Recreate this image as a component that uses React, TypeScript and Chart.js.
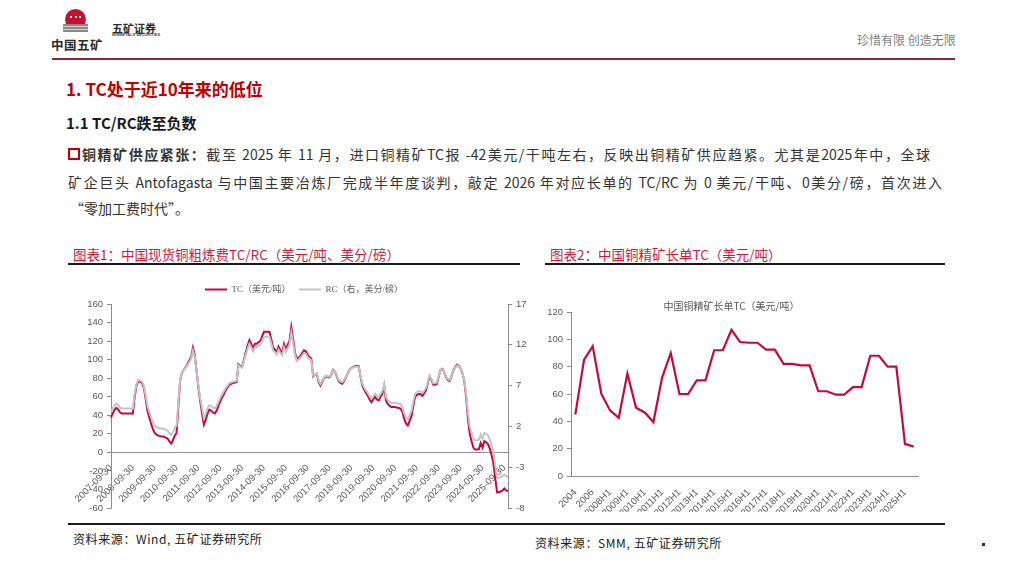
import React, { useEffect, useRef } from 'react';
import { Chart, registerables } from 'chart.js';

Chart.register(...registerables);

// ---------- DATA ----------
// Chart 1: monthly spot TC (USD/t) and RC (US cents/lb), 2007-09 .. 2025-11
const spotStartYear = 2007;
const spotStartMonth = 9;
const tcSpot = [
  37.5, 42, 46, 48,
  46, 43, 42, 42, 42, 42, 42, 42, 42, 60, 72, 77,
  76, 75, 70, 58, 45, 38, 31, 25, 21, 19, 18, 17.5,
  17, 17, 16, 15, 12, 9.5, 13, 18, 21, 50, 78, 86,
  89, 92, 95, 99, 103, 113, 105, 88, 70, 55, 42, 30,
  35, 42, 46, 45, 43, 42, 45, 50, 55, 59, 63, 67,
  70, 73, 74, 75, 75, 76, 95, 93, 92, 100, 108, 115,
  121, 117, 112, 117, 117, 119, 120, 125, 130, 130, 130, 130,
  122, 113, 111, 108, 114, 110, 107, 117, 111, 116, 120, 135,
  122, 108, 100, 102, 104, 107, 110, 109, 105, 103, 101, 82,
  84, 85, 76, 72, 76, 80, 82, 81, 81, 84, 89, 87,
  82, 77, 75, 74, 77, 81, 85, 89, 91, 92, 93, 93.5,
  93, 82, 72, 68, 64, 61, 57, 54, 57, 60, 57, 56,
  60, 63, 72, 56, 52, 50, 49, 49, 49, 48, 48, 47,
  44, 36, 31, 29, 34, 39, 50, 60, 62, 63, 63, 61,
  64, 67, 75, 82, 78, 73, 73, 74, 82, 89, 90, 86,
  81, 78, 77, 82, 89, 92, 94.5, 93, 90, 85, 77, 60,
  36, 20, 12, 5, 3, 3, 3.5, 10, 5, 12, 11, 9,
  4, -3, -12, -28, -43, -43, -42, -41, -39, -41, -42,
];
const rcSpot = [
  3.75, 4.2, 4.6, 4.8,
  4.6, 4.3, 4.2, 4.2, 4.2, 4.2, 4.2, 4.2, 4.2, 6.0, 7.2, 7.7,
  7.6, 7.5, 7.0, 5.8, 4.5, 3.8, 3.1, 2.5, 2.1, 1.9, 1.8, 1.75,
  1.7, 1.7, 1.6, 1.5, 1.2, 0.95, 1.3, 1.8, 2.1, 5.0, 7.8, 8.6,
  8.9, 9.2, 9.5, 9.9, 10.3, 11.3, 10.5, 8.8, 7.0, 5.5, 4.2, 3.0,
  3.5, 4.2, 4.6, 4.5, 4.3, 4.2, 4.5, 5.0, 5.5, 5.9, 6.3, 6.7,
  7.0, 7.3, 7.4, 7.5, 7.5, 7.6, 9.5, 9.3, 9.2, 10.0, 10.8, 11.5,
  12.1, 11.7, 11.2, 11.7, 11.7, 11.9, 12.0, 12.5, 13.0, 13.0, 13.0, 13.0,
  12.2, 11.3, 11.1, 10.8, 11.4, 11.0, 10.7, 11.7, 11.1, 11.6, 12.0, 13.5,
  12.2, 10.8, 10.0, 10.2, 10.4, 10.7, 11.0, 10.9, 10.5, 10.3, 10.1, 8.2,
  8.4, 8.5, 7.6, 7.2, 7.6, 8.0, 8.2, 8.1, 8.1, 8.4, 8.9, 8.7,
  8.2, 7.7, 7.5, 7.4, 7.7, 8.1, 8.5, 8.9, 9.1, 9.2, 9.3, 9.35,
  9.3, 8.2, 7.2, 6.8, 6.4, 6.1, 5.7, 5.4, 5.7, 6.0, 5.7, 5.6,
  6.0, 6.3, 7.2, 5.6, 5.2, 5.0, 4.9, 4.9, 4.9, 4.8, 4.8, 4.7,
  4.4, 3.6, 3.1, 2.9, 3.4, 3.9, 5.0, 6.0, 6.2, 6.3, 6.3, 6.1,
  6.4, 6.7, 7.5, 8.2, 7.8, 7.3, 7.3, 7.4, 8.2, 8.9, 9.0, 8.6,
  8.1, 7.8, 7.7, 8.2, 8.9, 9.2, 9.45, 9.3, 9.0, 8.5, 7.7, 6.0,
  3.6, 2.0, 1.2, 0.5, 0.3, 0.3, 0.35, 1.0, 0.5, 1.2, 1.1, 0.9,
  0.4, -0.3, -1.2, -2.8, -4.3, -4.3, -4.2, -4.1, -3.9, -4.1, -4.2,
];
const tcAxis = { min: -60, max: 160, step: 20 };
const rcAxis = { min: -8, max: 17, step: 5 };

// Chart 2: long-term benchmark TC (USD/t)
const ltcPeriods = [
  '2004', '2005', '2006', '2007',
  '2008H1', '2008H2', '2009H1', '2009H2', '2010H1', '2010H2', '2011H1', '2011H2',
  '2012H1', '2012H2', '2013H1', '2013H2', '2014H1', '2014H2', '2015H1', '2015H2',
  '2016H1', '2016H2', '2017H1', '2017H2', '2018H1', '2018H2', '2019H1', '2019H2',
  '2020H1', '2020H2', '2021H1', '2021H2', '2022H1', '2022H2', '2023H1', '2023H2',
  '2024H1', '2024H2', '2025H1', '2025H2',
];
const ltcValues = [
  45, 85, 95, 60,
  48, 42.5, 75, 50, 46.5, 39.5, 72, 90,
  60, 60, 70, 70, 92, 92, 107, 98,
  97.5, 97.5, 92.5, 92.5, 82, 82, 81, 81,
  62, 62, 59.5, 59.5, 65, 65, 88, 88,
  80, 80, 23.5, 21.5,
];
const ltcAxis = { min: 0, max: 120, step: 20 };

// category labels for chart 1 (month-end dates)
const spotDates: string[] = [];
for (let i = 0; i < tcSpot.length; i++) {
  const k = spotStartMonth - 1 + i;
  const y = spotStartYear + Math.floor(k / 12);
  const m = (k % 12) + 1;
  const d = new Date(y, m, 0).getDate();
  spotDates.push(`${y}-${String(m).padStart(2, '0')}-${d}`);
}

// ---------- STYLE ----------
const RED = '#C30A3F';
const GRAY_LINE = '#C4C4C4';
const AXIS = '#8C8C8C';
const TICK = '#595959';
const SANS = '"Liberation Sans", Arial, sans-serif';
const CJK = '"Noto Sans CJK SC", "Noto Sans", sans-serif';
const SERIF = '"Liberation Serif", "Noto Sans CJK SC", serif';
const tickFont = { family: SANS, size: 9.5 };

function SpotChart() {
  const ref = useRef<HTMLCanvasElement | null>(null);
  useEffect(() => {
    if (!ref.current) return;
    const chart = new Chart(ref.current, {
      type: 'line',
      data: {
        labels: spotDates,
        datasets: [
          {
            label: 'TC（美元/吨）',
            data: tcSpot,
            borderColor: RED,
            backgroundColor: RED,
            borderWidth: 2,
            pointRadius: 0,
            yAxisID: 'y',
            order: 1,
          },
          {
            label: 'RC（右，美分/磅）',
            data: rcSpot,
            borderColor: GRAY_LINE,
            backgroundColor: GRAY_LINE,
            borderWidth: 2,
            pointRadius: 0,
            yAxisID: 'y1',
            order: 0,
          },
        ],
      },
      options: {
        animation: false,
        responsive: false,
        maintainAspectRatio: false,
        layout: { padding: 0 },
        plugins: {
          legend: {
            display: true,
            position: 'top',
            labels: {
              usePointStyle: true,
              pointStyle: 'line',
              pointStyleWidth: 22,
              font: { family: SERIF, size: 9 },
              color: TICK,
              padding: 8.5,
              sort: (a: any, b: any) => a.datasetIndex - b.datasetIndex,
            },
          },
          tooltip: { enabled: false },
        },
        scales: {
          x: {
            type: 'category',
            position: { y: 0 } as any,
            grid: { display: false },
            border: { display: true, color: AXIS, width: 1 },
            ticks: {
              autoSkip: false,
              minRotation: 45,
              maxRotation: 45,
              padding: 2,
              font: tickFont,
              color: TICK,
              callback: (_v: any, i: number) => (spotDates[i].slice(5, 7) === '09' ? spotDates[i] : null),
            },
            afterFit: (s: any) => {
              s.paddingLeft = 0;
              s.paddingRight = 0;
            },
          },
          y: {
            position: 'left',
            min: tcAxis.min,
            max: tcAxis.max,
            ticks: { stepSize: tcAxis.step, font: tickFont, color: TICK, padding: 4 },
            grid: { display: true, drawOnChartArea: false, drawTicks: true, tickLength: 4, color: AXIS },
            border: { display: true, color: AXIS, width: 1 },
            afterFit: (s: any) => {
              s.width = 43;
              s.paddingTop = 34;
              s.paddingBottom = 14;
            },
          },
          y1: {
            position: 'right',
            min: rcAxis.min,
            max: rcAxis.max,
            ticks: { stepSize: rcAxis.step, font: tickFont, color: TICK, padding: 4 },
            grid: { display: true, drawOnChartArea: false, drawTicks: true, tickLength: 4, color: AXIS },
            border: { display: true, color: AXIS, width: 1 },
            afterFit: (s: any) => {
              s.width = 32;
            },
          },
        },
      } as any,
    });
    return () => chart.destroy();
  }, []);
  return (
    <canvas
      ref={ref}
      width={472}
      height={252}
      style={{ position: 'absolute', left: 68, top: 270, width: 472, height: 252 }}
    />
  );
}

function LongTermChart() {
  const ref = useRef<HTMLCanvasElement | null>(null);
  useEffect(() => {
    if (!ref.current) return;
    const chart = new Chart(ref.current, {
      type: 'line',
      data: {
        labels: ltcPeriods,
        datasets: [
          {
            label: '中国铜精矿长单TC（美元/吨）',
            data: ltcValues,
            borderColor: RED,
            backgroundColor: RED,
            borderWidth: 2.2,
            pointRadius: 0,
          },
        ],
      },
      options: {
        animation: false,
        responsive: false,
        maintainAspectRatio: false,
        layout: { padding: { left: 0, right: 27, top: 0, bottom: 0 } },
        plugins: {
          legend: { display: false },
          tooltip: { enabled: false },
          title: {
            display: true,
            text: '中国铜精矿长单TC（美元/吨）',
            color: TICK,
            font: { family: CJK, size: 10, weight: 'normal' },
            padding: { top: 6, bottom: 0 },
          },
        },
        scales: {
          x: {
            offset: true,
            grid: { display: false },
            border: { display: true, color: AXIS, width: 1 },
            ticks: {
              autoSkip: false,
              minRotation: 45,
              maxRotation: 45,
              padding: 3,
              font: tickFont,
              color: TICK,
              callback: (_v: any, i: number) => (i % 2 === 0 ? ltcPeriods[i] : null),
            },
            afterFit: (s: any) => {
              s.height = 36;
              s.paddingLeft = 0;
              s.paddingRight = 0;
            },
          },
          y: {
            min: ltcAxis.min,
            max: ltcAxis.max,
            ticks: { stepSize: ltcAxis.step, font: tickFont, color: TICK, padding: 4 },
            grid: { display: true, drawOnChartArea: false, drawTicks: true, tickLength: 4, color: AXIS },
            border: { display: true, color: AXIS, width: 1 },
            afterFit: (s: any) => {
              s.width = 26;
              s.paddingTop = 36;
            },
          },
        },
      } as any,
    });
    return () => chart.destroy();
  }, []);
  return (
    <canvas
      ref={ref}
      width={400}
      height={236}
      style={{ position: 'absolute', left: 545, top: 276, width: 400, height: 236 }}
    />
  );
}

const abs = (l: number, t: number, extra: React.CSSProperties = {}): React.CSSProperties => ({
  position: 'absolute',
  left: l,
  top: t,
  whiteSpace: 'nowrap',
  ...extra,
});

export default function App() {
  return (
    <div
      style={{
        position: 'absolute',
        left: 0,
        top: 0,
        width: 1009,
        height: 567,
        background: '#fff',
        overflow: 'hidden',
        fontFamily: CJK,
      }}
    >
      {/* logo */}
      <div style={abs(65, 9, { width: 21, height: 21, borderRadius: '50%', background: '#C8102E' })} />
      <div style={abs(70, 16, { width: 11, height: 8, borderTop: '2px dotted #fff' })} />
      <div
        style={abs(63, 24, {
          width: 25,
          height: 8,
          background: 'repeating-linear-gradient(180deg,#8a8a8a 0 2px,#d0d0d0 2px 3px)',
        })}
      />
      <div style={abs(51, 35, { fontSize: 12.5, fontWeight: 700, color: '#2b2b2b', letterSpacing: 0.5 })}>中国五矿</div>
      <div style={abs(112, 20, { fontSize: 11, fontWeight: 700, color: '#2b2b2b' })}>五矿证券</div>
      <div
        style={abs(112, 33, {
          fontSize: 6,
          fontFamily: SANS,
          fontWeight: 700,
          color: '#444',
          transform: 'scale(0.66)',
          transformOrigin: '0 0',
        })}
      >
        MINMETALS SECURITIES
      </div>
      <div style={abs(857, 31, { fontSize: 12, color: '#7f7f7f' })}>珍惜有限&nbsp;创造无限</div>
      <div style={abs(52, 58, { width: 903, height: 1.5, background: '#8E2444' })} />

      {/* headings */}
      <div style={abs(66, 76, { fontSize: 17, fontWeight: 700, color: '#C00000' })}>1. TC处于近10年来的低位</div>
      <div style={abs(66, 112, { fontSize: 15, fontWeight: 700, color: '#1a1a1a' })}>1.1 TC/RC跌至负数</div>

      {/* paragraph */}
      <div style={abs(68, 148, { width: 8, height: 8, border: '2px solid #C00000' })} />
      <div
        style={abs(82, 144, {
          width: 848,
          fontSize: 14,
          color: '#333',
          textAlign: 'justify',
          textAlignLast: 'justify',
          whiteSpace: 'normal',
          height: 20,
          overflow: 'hidden',
        } as React.CSSProperties)}
      >
        <b>铜精矿供应紧张：</b>截至 2025 年 11 月，进口铜精矿TC报 -42美元/干吨左右，反映出铜精矿供应趋紧。尤其是2025年中，全球
      </div>
      <div
        style={abs(68, 172, {
          width: 874,
          fontSize: 14,
          color: '#333',
          textAlign: 'justify',
          textAlignLast: 'justify',
          whiteSpace: 'normal',
          height: 20,
          overflow: 'hidden',
        } as React.CSSProperties)}
      >
        矿企巨头 Antofagasta 与中国主要冶炼厂完成半年度谈判，敲定 2026 年对应长单的 TC/RC 为 0 美元/干吨、0美分/磅，首次进入
      </div>
      <div style={abs(70, 198, { fontSize: 14, color: '#333' })}>“零加工费时代”。</div>

      {/* chart captions */}
      <div style={abs(73, 244, { fontSize: 13.5, color: '#C81E3C' })}>图表1：中国现货铜粗炼费TC/RC（美元/吨、美分/磅）</div>
      <div style={abs(68, 263, { width: 452, height: 1.5, background: '#1a1a1a' })} />
      <div style={abs(550, 244, { fontSize: 13.5, color: '#C81E3C' })}>图表2：中国铜精矿长单TC（美元/吨）</div>
      <div style={abs(545, 263, { width: 400, height: 1.5, background: '#1a1a1a' })} />

      <SpotChart />
      <LongTermChart />

      {/* bottom rule and sources */}
      <div style={abs(68, 523, { width: 877, height: 1.5, background: '#1a1a1a' })} />
      <div style={abs(73, 530, { fontSize: 12, color: '#1a1a1a', letterSpacing: 0.6 })}>资料来源：Wind, 五矿证券研究所</div>
      <div style={abs(535, 534, { fontSize: 12, color: '#1a1a1a', letterSpacing: 0.6 })}>资料来源：SMM, 五矿证券研究所</div>
      <div style={abs(982, 543, { width: 3, height: 3, background: '#333' })} />
    </div>
  );
}
